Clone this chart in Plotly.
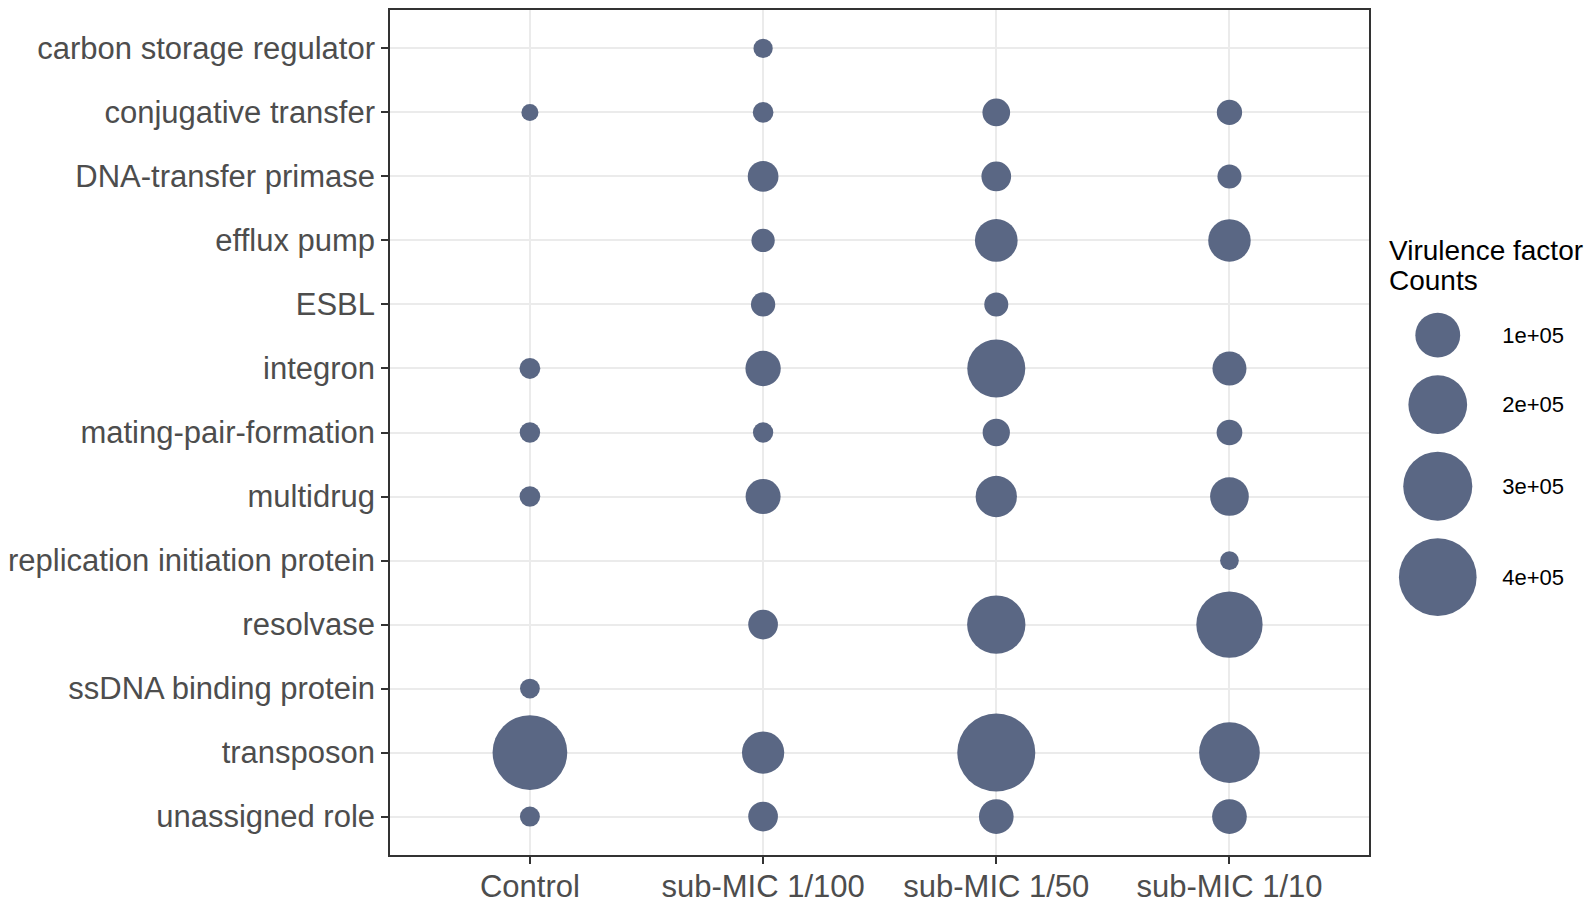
import numpy as np
import plotly.graph_objects as go

# rows, top to bottom
roles = [
    "carbon storage regulator",
    "conjugative transfer",
    "DNA-transfer primase",
    "efflux pump",
    "ESBL",
    "integron",
    "mating-pair-formation",
    "multidrug",
    "replication initiation protein",
    "resolvase",
    "ssDNA binding protein",
    "transposon",
    "unassigned role",
]
treatments = ["Control", "sub-MIC 1/100", "sub-MIC 1/50", "sub-MIC 1/10"]

# virulence factor counts per treatment (None = not detected)
control = [None, 20000, None, None, None, 21500, 21200, 21400, None, None, 20800, 363600, 20900]
mic_100 = [20500, 21400, 39400, 24100, 25500, 54600, 21100, 53400, None, 36600, None, 86000, 36600]
mic_50 = [None, 31800, 36600, 88200, 25100, 193500, 30900, 80900, None, 196000, None, 404000, 52300]
mic_10 = [None, 27100, 25100, 87000, None, 49800, 27800, 68600, 20300, 270800, None, 217000, 52300]

legend_breaks = [1e5, 2e5, 3e5, 4e5]
legend_labels = ["1e+05", "2e+05", "3e+05", "4e+05"]

# the page body adds an 8px margin, so the figure is drawn 8px smaller
# and every pixel target below is in figure coordinates (window px - 8)
W, H = 1587, 896
FONT = "Liberation Sans, Arial, sans-serif"
BUBBLE = "#5A6784"
GRID = "#EBEBEB"
BORDER = "#333333"
TICK_TEXT = "#4D4D4D"
D_MIN, D_MAX = 17, 78

# panel in pixels
P_LEFT, P_RIGHT, P_TOP, P_BOTTOM = 380, 1361, 2, 851
plot_w = W - P_LEFT

all_vals = [v for col in (control, mic_100, mic_50, mic_10) for v in col if v is not None]
v_min, v_max = min(all_vals), max(all_vals)


def bubble_px(v):
    # ggplot-like area scale: diameter linear in sqrt of rescaled value
    return D_MIN + (D_MAX - D_MIN) * np.sqrt((v - v_min) / (v_max - v_min))


fig = go.Figure()

for name, col in zip(treatments, (control, mic_100, mic_50, mic_10)):
    ys = [r for r, v in zip(roles, col) if v is not None]
    vs = [v for v in col if v is not None]
    fig.add_trace(
        go.Scatter(
            x=[name] * len(ys),
            y=ys,
            mode="markers",
            marker=dict(size=[bubble_px(v) for v in vs], color=BUBBLE, line=dict(width=0), opacity=1),
            customdata=vs,
            hovertemplate="%{y}<br>%{x}<br>%{customdata}<extra></extra>",
            showlegend=False,
        )
    )

# size legend drawn on its own small axis pair
key_d = [bubble_px(b) for b in legend_breaks]
key_y = [328.7]
for i in range(1, len(key_d)):
    key_y.append(key_y[-1] + (key_d[i - 1] + key_d[i]) / 2 + 18)

fig.add_trace(
    go.Scatter(
        x=[0] * len(legend_breaks),
        y=key_y,
        xaxis="x2",
        yaxis="y2",
        mode="markers",
        cliponaxis=False,
        marker=dict(size=key_d, color=BUBBLE, line=dict(width=0), opacity=1),
        hoverinfo="skip",
        showlegend=False,
    )
)

axis_style = dict(
    showgrid=True,
    gridcolor=GRID,
    gridwidth=2,
    zeroline=False,
    showline=True,
    mirror=True,
    linecolor=BORDER,
    linewidth=1.5,
    ticks="outside",
    ticklen=7,
    tickwidth=1.5,
    tickcolor=BORDER,
    tickfont=dict(size=31, color=TICK_TEXT, family=FONT),
)

fig.update_layout(
    width=W,
    height=H,
    margin=dict(l=P_LEFT, r=0, t=P_TOP, b=H - P_BOTTOM, pad=0),
    plot_bgcolor="white",
    paper_bgcolor="white",
    font=dict(family=FONT),
    xaxis=dict(
        domain=[0, (P_RIGHT - P_LEFT) / plot_w],
        anchor="y",
        type="category",
        categoryorder="array",
        categoryarray=treatments,
        range=[-0.6, len(treatments) - 0.4],
        ticklabelstandoff=-4,
        **axis_style,
    ),
    yaxis=dict(
        domain=[0, 1],
        anchor="x",
        type="category",
        categoryorder="array",
        categoryarray=roles,
        range=[len(roles) - 0.4, -0.6],
        **axis_style,
    ),
    xaxis2=dict(
        domain=[(1404 - P_LEFT) / plot_w, (1455 - P_LEFT) / plot_w],
        anchor="y2",
        range=[-1, 1],
        visible=False,
    ),
    yaxis2=dict(
        domain=[0, 1],
        anchor="x2",
        range=[P_BOTTOM, P_TOP],
        side="right",
        showgrid=False,
        zeroline=False,
        showline=False,
        ticks="",
        tickvals=key_y,
        ticktext=legend_labels,
        ticklabelstandoff=38,
        tickfont=dict(size=22, color="black", family=FONT),
    ),
)

for text, y in (("Virulence factor", 243.7), ("Counts", 273.7)):
    fig.add_annotation(
        text=text,
        xref="paper",
        yref="y2",
        x=(1380 - P_LEFT) / plot_w,
        y=y,
        xanchor="left",
        yanchor="middle",
        showarrow=False,
        borderpad=0,
        font=dict(size=28, color="black", family=FONT),
    )

fig.write_html("out.html")
